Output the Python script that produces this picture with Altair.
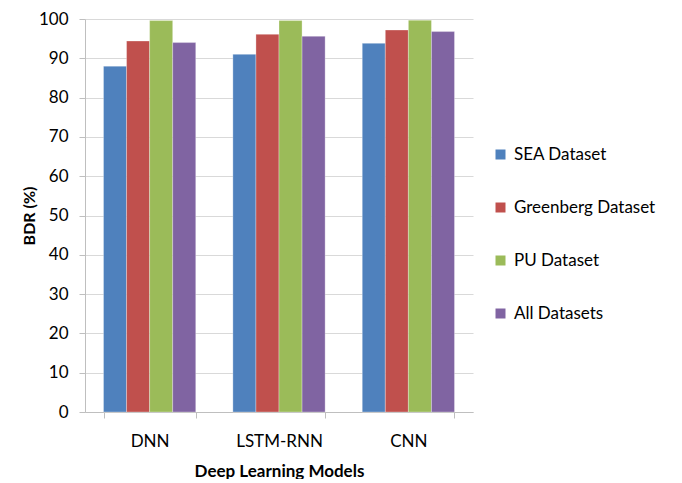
import altair as alt
import pandas as pd

models = ["DNN", "LSTM-RNN", "CNN"]
series = ["SEA Dataset", "Greenberg Dataset", "PU Dataset", "All Datasets"]
sea = [88.0, 91.0, 93.8]
greenberg = [94.4, 96.1, 97.2]
pu = [99.6, 99.6, 99.7]
alld = [94.0, 95.6, 96.8]
colors = ["#4F81BD", "#C0504D", "#9BBB59", "#8064A2"]

rows = []
for vals, s in zip([sea, greenberg, pu, alld], series):
    for m, v in zip(models, vals):
        rows.append({"model": m, "series": s, "value": v})
df = pd.DataFrame(rows)

FONT = "Lato"

chart = alt.Chart(df).mark_bar(stroke="white", strokeWidth=0.5, strokeOpacity=0.6).encode(
    x=alt.X("model:N", sort=models, title="Deep Learning Models",
            scale=alt.Scale(paddingInner=0.287, paddingOuter=0.143),
            axis=alt.Axis(labelAngle=0, tickBand="extent", tickSize=6, tickColor="#bfbfbf",
                          domainColor="#bfbfbf", labelFontSize=17, labelPadding=15,
                          titleFontSize=17, titleFontWeight="bold", titlePadding=14,
                          labelColor="#000000", titleColor="#000000")),
    xOffset=alt.XOffset("series:N", sort=series),
    y=alt.Y("value:Q", title="BDR (%)",
            scale=alt.Scale(domain=[0, 100], nice=False),
            axis=alt.Axis(values=list(range(0, 101, 10)), tickSize=6, tickColor="#bfbfbf",
                          domainColor="#bfbfbf", gridColor="#d9d9d9", labelFontSize=17,
                          labelPadding=11, titleFontSize=16, titleFontWeight="bold",
                          titlePadding=1, labelColor="#000000", titleColor="#000000")),
    color=alt.Color("series:N", sort=series, scale=alt.Scale(domain=series, range=colors),
                    legend=alt.Legend(title=None, orient="none", legendX=407, legendY=127,
                                      symbolType="square", symbolSize=100, symbolStrokeWidth=0,
                                      labelFontSize=17, rowPadding=35, labelOffset=5,
                                      labelColor="#000000", padding=0)),
).properties(width=388, height=393, padding={"left": 13, "top": 2, "right": 5, "bottom": 0}).configure(
    font=FONT
).configure_view(stroke=None).configure_axis(labelFont=FONT, titleFont=FONT)

chart.save("out.html", embed_options={"renderer": "svg", "actions": False})
